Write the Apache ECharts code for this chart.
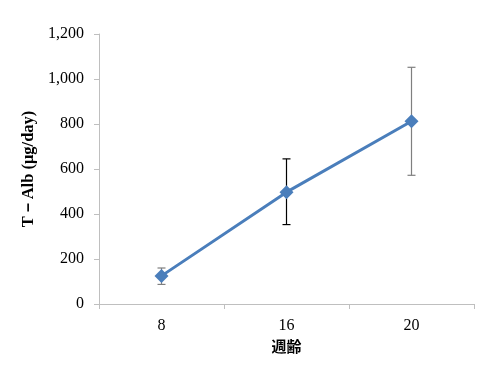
<!DOCTYPE html>
<html>
<head>
<meta charset="utf-8">
<script src="https://cdn.jsdelivr.net/npm/echarts@6/dist/echarts.min.js"></script>
<style>
  html, body { margin: 0; padding: 0; background: #fff; }
  #chart { width: 489px; height: 369px; }
</style>
</head>
<body>
<div id="chart"></div>
<script>
const weeks = ['8', '16', '20'];
const meanAlb = [125, 497, 812];
const errLow = [87, 353, 572];
const errHigh = [160, 645, 1052];
const yTicks = [0, 200, 400, 600, 800, 1000, 1200];

const errColors = ['#7f7f7f', '#000000', '#7f7f7f'];
const serif = '"Liberation Serif", "Times New Roman", serif';

const chart = echarts.init(document.getElementById('chart'));

chart.setOption({
  animation: false,
  grid: { left: 99, right: 15, top: 34, bottom: 65 },
  xAxis: {
    type: 'category',
    data: weeks,
    name: '週齢',
    nameLocation: 'middle',
    nameGap: 33,
    nameTextStyle: { fontFamily: '"Noto Sans CJK JP", ' + serif, fontWeight: 'bold', fontSize: 15, color: '#000' },
    axisLine: { lineStyle: { color: '#bfbfbf' } },
    axisTick: { show: true, length: 5, lineStyle: { color: '#bfbfbf' } },
    axisLabel: { fontFamily: serif, fontSize: 16, color: '#000', margin: 14 }
  },
  yAxis: {
    type: 'value',
    min: yTicks[0],
    max: yTicks[yTicks.length - 1],
    interval: 200,
    name: 'T－Alb (μg/day)',
    nameLocation: 'middle',
    nameGap: 61,
    nameTextStyle: { fontFamily: serif, fontWeight: 'bold', fontSize: 16.5, color: '#000' },
    axisLine: { show: true, lineStyle: { color: '#bfbfbf' } },
    axisTick: { show: true, length: 5, lineStyle: { color: '#bfbfbf' } },
    splitLine: { show: false },
    axisLabel: {
      fontFamily: serif,
      fontSize: 16,
      color: '#000',
      margin: 15,
      formatter: v => v.toLocaleString('en-US')
    }
  },
  series: [
    {
      type: 'custom',
      z: 1,
      data: weeks.map((w, i) => [i, errLow[i], errHigh[i]]),
      renderItem: (params, api) => {
        const lo = api.coord([api.value(0), api.value(1)]);
        const hi = api.coord([api.value(0), api.value(2)]);
        const cap = 4;
        const style = { stroke: errColors[params.dataIndex], lineWidth: 1.2 };
        return {
          type: 'group',
          children: [
            { type: 'line', shape: { x1: hi[0], y1: hi[1], x2: lo[0], y2: lo[1] }, style },
            { type: 'line', shape: { x1: hi[0] - cap, y1: hi[1], x2: hi[0] + cap, y2: hi[1] }, style },
            { type: 'line', shape: { x1: lo[0] - cap, y1: lo[1], x2: lo[0] + cap, y2: lo[1] }, style }
          ]
        };
      }
    },
    {
      type: 'line',
      z: 2,
      data: meanAlb,
      symbol: 'diamond',
      symbolSize: 14,
      lineStyle: { color: '#4a7ebb', width: 3 },
      itemStyle: { color: '#4a7ebb' }
    }
  ]
});
</script>
</body>
</html>
